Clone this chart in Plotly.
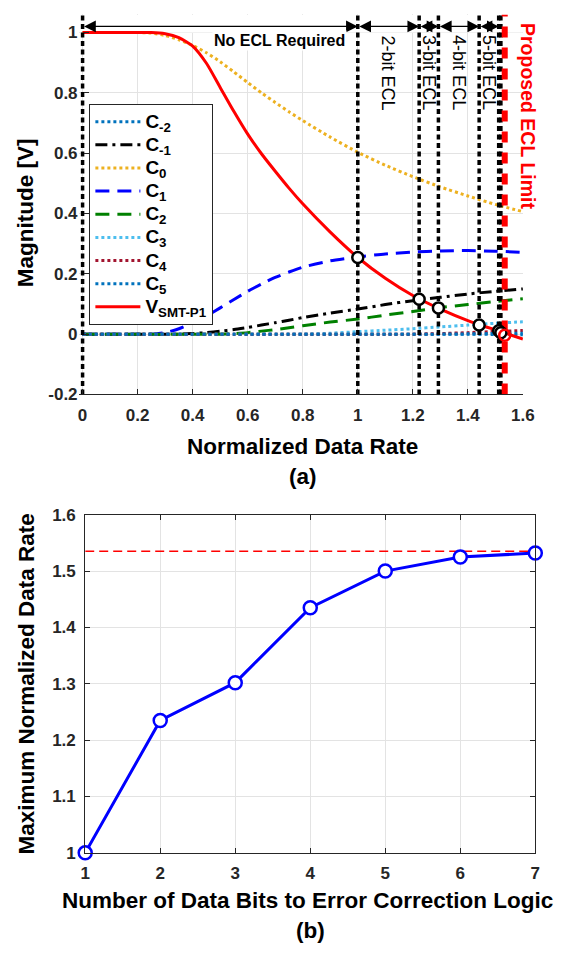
import plotly.graph_objects as go

# ================= (a) data =================
rate = [0, 0.1, 0.2, 0.25, 0.3, 0.35, 0.4, 0.45, 0.5, 0.55, 0.6, 0.65, 0.7, 0.75, 0.8, 0.9,
        1.0, 1.1, 1.2, 1.3, 1.4, 1.5, 1.6]
c_m2 = [0, 0, 0, 0, 0, 0, 0, 0, 0, 0, 0, 0, 0, 0, 0, 0, 0, 0, 0, 0, 0, -0.001, -0.002]
c_m1 = [0, 0, 0, 0, 0, 0, 0.002, 0.005, 0.01, 0.015, 0.022, 0.03, 0.038, 0.046, 0.055, 0.07,
        0.083, 0.098, 0.111, 0.122, 0.133, 0.142, 0.15]
c_0 = [1, 1, 1, 0.998, 0.99, 0.976, 0.957, 0.933, 0.903, 0.869, 0.834, 0.8, 0.768, 0.737,
       0.708, 0.653, 0.603, 0.56, 0.522, 0.488, 0.458, 0.43, 0.406]
c_1 = [0, 0, 0, 0, 0.005, 0.018, 0.037, 0.06, 0.087, 0.115, 0.142, 0.166, 0.188, 0.206,
       0.222, 0.243, 0.256, 0.266, 0.272, 0.276, 0.277, 0.275, 0.271]
c_2 = [0, 0, 0, 0, 0, 0, 0, 0, 0, 0.002, 0.005, 0.01, 0.015, 0.021, 0.028, 0.04, 0.05, 0.063,
       0.075, 0.088, 0.098, 0.108, 0.117]
c_3 = [0, 0, 0, 0, 0, 0, 0, 0, 0, 0, 0, 0, 0, 0, 0, 0.003, 0.008, 0.013, 0.018, 0.024,
       0.03, 0.036, 0.041]
c_4 = [0, 0, 0, 0, 0, 0, 0, 0, 0, 0, 0, 0, 0, 0, 0, 0, 0, 0, 0, 0.002, 0.005, 0.009, 0.012]
c_5 = [0, 0, 0, 0, 0, 0, 0, 0, 0, 0, 0, 0, 0, 0, 0, 0, 0, 0, 0, 0, 0.001, 0.002, 0.003]
v_smt = [1, 1, 1, 1.0, 0.996, 0.983, 0.955, 0.898, 0.818, 0.738, 0.663, 0.598, 0.54, 0.484,
         0.432, 0.338, 0.254, 0.185, 0.128, 0.083, 0.045, 0.014, -0.016]

ecl_bounds = [0, 1.0, 1.223, 1.293, 1.441, 1.512, 1.520]
ecl_limit = 1.534
cross_x = [1.0, 1.223, 1.293, 1.441, 1.512, 1.520]
cross_y = [0.254, 0.116, 0.087, 0.030, 0.011, 0.005]
limit_cross_y = -0.004
region_labels = ["2-bit ECL", "3-bit ECL", "4-bit ECL", "5-bit ECL"]
a_xticks = [0, 0.2, 0.4, 0.6, 0.8, 1.0, 1.2, 1.4, 1.6]
a_xtext = ["0", "0.2", "0.4", "0.6", "0.8", "1", "1.2", "1.4", "1.6"]
a_yticks = [-0.2, 0, 0.2, 0.4, 0.6, 0.8, 1.0]
a_ytext = ["-0.2", "0", "0.2", "0.4", "0.6", "0.8", "1"]

# ================= (b) data =================
bits = [1, 2, 3, 4, 5, 6, 7]
max_rate = [1.0, 1.235, 1.302, 1.435, 1.5, 1.525, 1.532]
limit_b = 1.535
b_yticks = [1.0, 1.1, 1.2, 1.3, 1.4, 1.5, 1.6]
b_ytext = ["1", "1.1", "1.2", "1.3", "1.4", "1.5", "1.6"]

# ================= layout constants =================
W, H = 564, 954
FONT = "Liberation Sans, Arial, sans-serif"
AX = "#262626"
GRID = "#e3e3e3"
A_XR = [-0.012, 1.6]
A_YR = [-0.2, 1.06]

def px(x):
    return x / W

def py(y):
    return 1 - y / H

def leg(main, sub):
    return ('<span style="font-size:19px"><b>' + main + '<sub>' + sub + '</sub></b></span>')

fig = go.Figure()

series = [
    ("C", "-2", c_m2, "#0072BD", "dot"),
    ("C", "-1", c_m1, "black", "12px,5px,3px,5px"),
    ("C", "0", c_0, "#EDB120", "dot"),
    ("C", "1", c_1, "#0000FF", "14px,8px"),
    ("C", "2", c_2, "#008000", "14px,8px"),
    ("C", "3", c_3, "#4DBEEE", "dot"),
    ("C", "4", c_4, "#A2142F", "dot"),
    ("C", "5", c_5, "#0072BD", "dot"),
]
for main, sub, vals, col, dash in series:
    fig.add_trace(go.Scatter(x=rate, y=vals, mode="lines", name=leg(main, sub),
                             line=dict(color=col, width=3, dash=dash, shape="spline", smoothing=0.6),
                             xaxis="x", yaxis="y"))
fig.add_trace(go.Scatter(x=rate, y=v_smt, mode="lines", name=leg("V", "SMT-P1"),
                         line=dict(color="#FF0000", width=3, shape="spline", smoothing=0.6),
                         xaxis="x", yaxis="y"))

# vertical ECL boundary lines
for b in ecl_bounds:
    fig.add_trace(go.Scatter(x=[b, b], y=A_YR, mode="lines", showlegend=False,
                             line=dict(color="black", width=3.5, dash="5px,3.5px"),
                             xaxis="x", yaxis="y", hoverinfo="skip"))
fig.add_trace(go.Scatter(x=[ecl_limit, ecl_limit], y=A_YR, mode="lines", showlegend=False,
                         line=dict(color="#FF0000", width=6, dash="11px,10px"),
                         xaxis="x", yaxis="y", hoverinfo="skip"))

# crossing markers
fig.add_trace(go.Scatter(x=cross_x, y=cross_y, mode="markers", showlegend=False,
                         marker=dict(symbol="circle", size=11, color="white",
                                     line=dict(color="black", width=2.5)),
                         cliponaxis=False, xaxis="x", yaxis="y"))
fig.add_trace(go.Scatter(x=[ecl_limit], y=[limit_cross_y], mode="markers", showlegend=False,
                         marker=dict(symbol="circle", size=11, color="rgba(255,255,255,0)",
                                     line=dict(color="#FF0000", width=2.5)),
                         cliponaxis=False, xaxis="x", yaxis="y"))

# ================= (b) traces =================
fig.add_trace(go.Scatter(x=[bits[0], bits[-1]], y=[limit_b, limit_b], mode="lines",
                         showlegend=False, line=dict(color="#FF0000", width=1.5, dash="9px,5px"),
                         xaxis="x2", yaxis="y2"))
fig.add_trace(go.Scatter(x=bits, y=max_rate, mode="lines+markers", showlegend=False,
                         line=dict(color="#0000FF", width=3),
                         marker=dict(symbol="circle", size=13, color="white",
                                     line=dict(color="#0000FF", width=2.5)),
                         cliponaxis=False, xaxis="x2", yaxis="y2"))

tickfont = dict(family=FONT, size=17, color=AX, weight="bold")

fig.update_layout(
    width=W, height=H, autosize=False,
    margin=dict(l=0, r=0, t=0, b=0),
    paper_bgcolor="white", plot_bgcolor="white",
    font=dict(family=FONT, color="black"),
    xaxis=dict(domain=[px(80 + A_XR[0] * 283.75), px(534)], range=A_XR, anchor="y",
               tickvals=a_xticks, ticktext=a_xtext, tickfont=tickfont,
               ticks="inside", ticklen=5, tickcolor=AX, showline=True, linecolor=AX, linewidth=1,
               showgrid=True, gridcolor=GRID, gridwidth=1, zeroline=False, ticklabelstandoff=5),
    yaxis=dict(domain=[py(393.3), py(5.5)], range=A_YR, anchor="free", position=px(80),
               tickvals=a_yticks, ticktext=a_ytext, tickfont=tickfont,
               ticks="inside", ticklen=5, tickcolor=AX, showline=False,
               showgrid=True, gridcolor=GRID, gridwidth=1, zeroline=False, ticklabelstandoff=5),
    xaxis2=dict(domain=[px(82.7), px(546.8)], range=[1, 7], anchor="y2",
                tickvals=bits, tickfont=tickfont,
                ticks="inside", ticklen=5, tickcolor=AX, showline=True, linecolor=AX, linewidth=1,
                mirror="ticks", showgrid=True, gridcolor=GRID, gridwidth=1, zeroline=False,
                ticklabelstandoff=5),
    yaxis2=dict(domain=[py(861), py(516)], range=[1, 1.6], anchor="x2",
                tickvals=b_yticks, ticktext=b_ytext, tickfont=tickfont,
                ticks="inside", ticklen=5, tickcolor=AX, showline=True, linecolor=AX, linewidth=1,
                mirror="ticks", showgrid=True, gridcolor=GRID, gridwidth=1, zeroline=False,
                ticklabelstandoff=5),
    legend=dict(x=px(87), y=py(97), xanchor="left", yanchor="top", bgcolor="white",
                bordercolor=AX, borderwidth=1, font=dict(family=FONT, size=15.5, color="black"),
                tracegroupgap=0, itemwidth=45),
    showlegend=True,
)

# white cover hiding gridlines above y = 1 in panel (a)
fig.add_shape(type="rect", xref="x", yref="y", x0=A_XR[0], x1=A_XR[1], y0=1.0, y1=A_YR[1],
              fillcolor="white", line=dict(width=0), layer="between")

ann = []
# arrows between ECL boundaries
for i in range(len(ecl_bounds) - 2):
    ann.append(dict(x=ecl_bounds[i + 1], y=1.02, ax=ecl_bounds[i], ay=1.02, xref="x", yref="y",
                    axref="x", ayref="y", text="", showarrow=True, arrowside="end+start",
                    arrowhead=2, startarrowhead=2, arrowsize=1.8, startarrowsize=1.8,
                    arrowwidth=1.3, arrowcolor="black", standoff=0, startstandoff=0))
ann.append(dict(x=0.962, y=0.975, xref="x", yref="y", text="<b>No ECL Required</b>",
                showarrow=False, xanchor="right", yanchor="middle", bgcolor="white",
                font=dict(family=FONT, size=16, color="black")))
for i, lab in enumerate(region_labels):
    xm = (ecl_bounds[i + 1] + ecl_bounds[i + 2]) / 2
    ann.append(dict(x=xm, y=0.997, xref="x", yref="y", text=lab, showarrow=False,
                    textangle=90, xanchor="center", yanchor="top",
                    font=dict(family=FONT, size=18, color="black")))
ann.append(dict(x=px(539), y=py(12), xref="paper", yref="paper", text="<b>Proposed ECL Limit</b>",
                showarrow=False, textangle=90, xanchor="center", yanchor="top",
                font=dict(family=FONT, size=19.5, color="#FF0000")))
# axis titles
title_font = dict(family=FONT, size=22.5, color="black")
titles = [
    (22, 208, "<b>Magnitude [V]</b>", -90),
    (307, 446.7, "<b>Normalized Data Rate</b>", 0),
    (307, 476.7, "<b>(a)</b>", 0),
    (22, 689, "<b>Maximum Normalized Data Rate</b>", -90),
    (312, 910, "<b>Number of Data Bits to Error Correction Logic</b>", 0),
    (314.7, 940, "<b>(b)</b>", 0),
]
for tx, ty, tt, ang in titles:
    ann.append(dict(x=px(tx), y=py(ty), xref="paper", yref="paper", text=tt, textangle=ang,
                    xanchor="center", yanchor="middle", showarrow=False, font=title_font))
fig.update_layout(annotations=ann)

fig.write_html("out.html", include_plotlyjs=True, full_html=True,
               config=dict(displayModeBar=False))
